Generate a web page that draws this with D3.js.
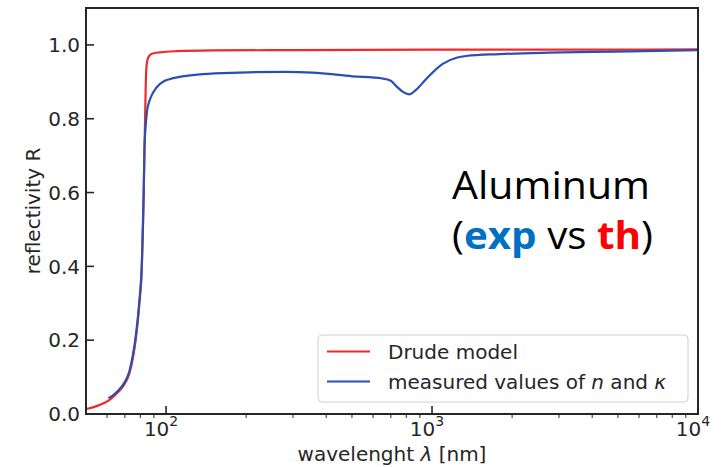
<!DOCTYPE html>
<html><head><meta charset="utf-8">
<script src="https://cdn.jsdelivr.net/npm/d3@7"></script>
<style>body{margin:0;background:#fff}svg{display:block}</style>
</head><body>
<svg id="c" width="723" height="467"></svg>
<script>
// Drude model (theory)
const drudeWl = [50,53,56,59,62,65.8,69.7,72.8,75.0,77.2,79.4,81.1,82.4,83.2,83.8,84.3,84.9,86.0,88.5,95,110,150,300,1000,3000,10000];
const drudeR  = [0.0135,0.018,0.024,0.031,0.041,0.058,0.080,0.110,0.150,0.210,0.30,0.40,0.60,0.76,0.88,0.935,0.955,0.968,0.976,0.980,0.983,0.985,0.986,0.987,0.987,0.988];
// measured n, kappa (experiment)
const measWl = [60.7,63,65.8,69.7,72.8,74.9,77.2,79.4,81.0,82.4,82.9,83.8,84.8,86.3,88.1,91.9,98.5,102.9,110,137,189,282,355,502,650,700,732,780,822,870,949,1093,1245,1342,1791,2761,4918,10000];
const measR  = [0.043,0.050,0.062,0.085,0.116,0.157,0.220,0.308,0.40,0.60,0.714,0.78,0.82,0.845,0.862,0.884,0.902,0.907,0.912,0.921,0.925,0.927,0.925,0.915,0.909,0.903,0.889,0.872,0.866,0.878,0.907,0.948,0.966,0.970,0.975,0.979,0.982,0.986];
const yTicks = [0.0,0.2,0.4,0.6,0.8,1.0];
const xTicks = [100,1000,10000];
const xTickExp = ["2","3","4"];
const legendLabels = ["Drude model","measured values of "];

const svg = d3.select("#c");
const L=86,R=698,T=8,B=414;
const x = d3.scaleLog().domain([50,10000]).range([L,R]);
const y = d3.scaleLinear().domain([0,1.1]).range([B,T]);
const ink="#262626";
const red="#ee2b2b", blue="#2b4fb0";

svg.append("clipPath").attr("id","clip").append("rect").attr("x",L).attr("y",T).attr("width",R-L).attr("height",B-T);

const line = d3.line().x(d=>x(d[0])).y(d=>y(d[1])).curve(d3.curveMonotoneX);
svg.append("path").attr("clip-path","url(#clip)").datum(drudeWl.map((w,i)=>[w,drudeR[i]]))
  .attr("d",line).attr("fill","none").attr("stroke",red).attr("stroke-width",2.2);
svg.append("path").attr("clip-path","url(#clip)").datum(measWl.map((w,i)=>[w,measR[i]]))
  .attr("d",line).attr("fill","none").attr("stroke",blue).attr("stroke-width",2.2);

// minor x ticks (outward)
const minorVals=[];
[10,100,1000].forEach(dec=>{for(let k=2;k<=9;k++){const v=k*dec;if(v>50&&v<10000)minorVals.push(v);}});
svg.append("g").selectAll("line").data(minorVals).join("line")
  .attr("x1",d=>x(d)).attr("x2",d=>x(d)).attr("y1",B).attr("y2",B+4)
  .attr("stroke",ink).attr("stroke-width",1);

// major x ticks (inward)
svg.append("g").selectAll("line").data(xTicks).join("line")
  .attr("x1",d=>x(d)).attr("x2",d=>x(d)).attr("y1",B).attr("y2",B-8)
  .attr("stroke",ink).attr("stroke-width",1.6);
const xl = svg.append("g").attr("font-family","DejaVu Sans").attr("fill",ink);
xTicks.forEach((v,i)=>{
  const t = xl.append("text").attr("x",x(v)-5).attr("y",436).attr("text-anchor","middle").attr("font-size",20);
  t.append("tspan").text("10");
  t.append("tspan").attr("dy",-10).attr("font-size",14).text(xTickExp[i]);
});

// y ticks (inward)
svg.append("g").selectAll("line").data(yTicks).join("line")
  .attr("x1",L).attr("x2",L+8).attr("y1",d=>y(d)).attr("y2",d=>y(d))
  .attr("stroke",ink).attr("stroke-width",1.6);
svg.append("g").selectAll("text").data(yTicks).join("text")
  .attr("x",80).attr("y",d=>y(d)+7.3).attr("text-anchor","end")
  .attr("font-family","DejaVu Sans").attr("font-size",20).attr("fill",ink)
  .text(d=>d.toFixed(1));

// frame
svg.append("rect").attr("x",L).attr("y",T).attr("width",R-L).attr("height",B-T)
  .attr("fill","none").attr("stroke",ink).attr("stroke-width",2);

// axis labels
svg.append("text").attr("x",(L+R)/2).attr("y",461).attr("text-anchor","middle")
  .attr("font-family","DejaVu Sans").attr("font-size",20).attr("fill",ink)
  .call(t=>{t.append("tspan").text("wavelenght ");t.append("tspan").attr("font-style","italic").text("λ");t.append("tspan").text(" [nm]");});
svg.append("text").attr("transform",`translate(40,${(T+B)/2}) rotate(-90)`).attr("text-anchor","middle")
  .attr("font-family","DejaVu Sans").attr("font-size",20).attr("fill",ink).text("reflectivity R");

// legend
const lg = svg.append("g");
lg.append("rect").attr("x",318).attr("y",335).attr("width",370).attr("height",67).attr("rx",4)
  .attr("fill","#fff").attr("fill-opacity",0.85).attr("stroke","#d0d0d0").attr("stroke-width",1);
[[red,351.5],[blue,381.5]].forEach(([c,yy])=>{
  lg.append("line").attr("x1",327).attr("x2",370).attr("y1",yy).attr("y2",yy).attr("stroke",c).attr("stroke-width",2.2);
});
lg.append("text").attr("x",388).attr("y",358.5).attr("font-family","DejaVu Sans").attr("font-size",20).attr("fill",ink).text(legendLabels[0]);
lg.append("text").attr("x",388).attr("y",389).attr("font-family","DejaVu Sans").attr("font-size",20).attr("fill",ink)
  .call(t=>{t.append("tspan").text(legendLabels[1]);t.append("tspan").attr("font-style","italic").text("n");t.append("tspan").text(" and ");t.append("tspan").attr("font-style","italic").text("κ");});

// annotation
svg.append("text").attr("x",452).attr("y",199).attr("font-family","Open Sans").attr("font-size",38).attr("fill","#000")
  .attr("textLength",198).attr("lengthAdjust","spacingAndGlyphs").text("Aluminum");
svg.append("text").attr("x",452).attr("y",249).attr("font-family","Open Sans").attr("font-size",38).attr("fill","#000")
  .attr("textLength",201).attr("lengthAdjust","spacingAndGlyphs")
  .call(t=>{
    t.append("tspan").text("(");
    t.append("tspan").attr("font-weight","bold").attr("fill","#0070C0").text("exp");
    t.append("tspan").text(" vs ");
    t.append("tspan").attr("font-weight","bold").attr("fill","#FF0000").text("th");
    t.append("tspan").text(")");
  });
</script>
</body></html>
